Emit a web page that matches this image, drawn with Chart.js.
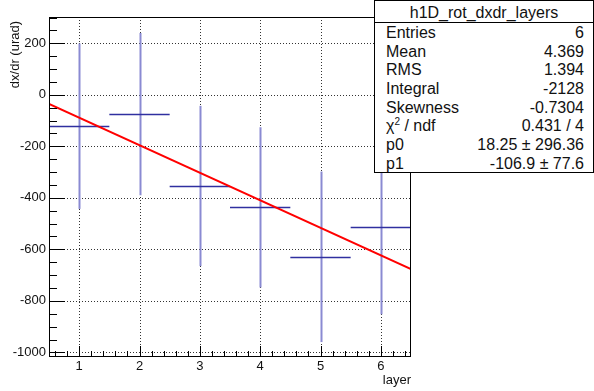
<!DOCTYPE html>
<html>
<head>
<meta charset="utf-8">
<title>h1D_rot_dxdr_layers</title>
<script src="https://cdn.jsdelivr.net/npm/chart.js@4.4.1/dist/chart.umd.min.js"></script>
<style>
  body { margin: 0; background: #fff; }
  #wrap { position: relative; width: 594px; height: 391px; }
  #stats {
    position: absolute; left: 374px; top: 0; width: 220px; height: 173px;
    box-sizing: border-box; border: 1px solid #000; background: #fff;
    font-family: "Liberation Sans", Arial, sans-serif; font-size: 16px; color: #111;
  }
  #stats .head { height: 21px; line-height: 23px; text-align: center; border-bottom: 1px solid #000; }
  #stats .row { display: flex; justify-content: space-between; height: 18.7px; line-height: 19px; padding: 0 9px 0 11px; }
  #stats sup { font-size: 10px; line-height: 0; }
</style>
</head>
<body>
<div id="wrap">
  <canvas id="c" width="594" height="391"></canvas>
  <div id="stats"></div>
</div>
<script>
// bins (layer) and measured dx/dr with errors
const layers = [1, 2, 3, 4, 5, 6];
const dxdr = [-122, -75, -354, -437, -629, -513];
const dxdrErr = [321, 315, 311, 311, 331, 339];
const layerHalfWidth = [0.5, 0.5, 0.5, 0.5, 0.5, 0.5];

// linear fit, ends of the drawn range
const fitX = [0.5, 6.5];
const fitY = [-35.2, -676.6];

// axis labels
const xTicks = [1, 2, 3, 4, 5, 6];
const yTicks = [-1000, -800, -600, -400, -200, 0, 200];

const statTitle = "h1D_rot_dxdr_layers";
const statNames = ["Entries", "Mean", "RMS", "Integral", "Skewness", "χ<sup>2</sup> / ndf", "p0", "p1"];
const statValues = ["6", "4.369", "1.394", "-2128", "-0.7304", "0.431 / 4", "18.25 ± 296.36", "-106.9 ± 77.6"];

const FONT = '"Liberation Sans", Arial, sans-serif';

// stats box
let html = '<div class="head">' + statTitle + '</div>';
statNames.forEach((n, i) => {
  html += '<div class="row"><span>' + n + '</span><span>' + statValues[i] + '</span></div>';
});
document.getElementById("stats").innerHTML = html;

const errorBars = {
  id: "errorBars",
  beforeDatasetsDraw(chart) {
    const { ctx, chartArea: a, scales: { x, y } } = chart;
    ctx.save();
    ctx.beginPath();
    ctx.rect(a.left, a.top, a.right - a.left, a.bottom - a.top);
    ctx.clip();

    // dotted grid at the labelled ticks
    ctx.strokeStyle = "#333";
    ctx.lineWidth = 1;
    ctx.setLineDash([1, 2]);
    ctx.beginPath();
    x.ticks.forEach((t) => {
      const px = Math.round(x.getPixelForValue(t.value)) + 0.5;
      ctx.moveTo(px, a.top);
      ctx.lineTo(px, a.bottom);
    });
    y.ticks.forEach((t) => {
      const py = Math.round(y.getPixelForValue(t.value)) + 0.5;
      ctx.moveTo(a.left, py);
      ctx.lineTo(a.right, py);
    });
    ctx.stroke();
    ctx.setLineDash([]);

    layers.forEach((l, i) => {
      const px = Math.round(x.getPixelForValue(l)) + 0.5;
      const py = Math.round(y.getPixelForValue(dxdr[i])) + 0.5;
      ctx.strokeStyle = "#8a8ad2";
      ctx.lineWidth = 2;
      ctx.beginPath();
      ctx.moveTo(px, y.getPixelForValue(dxdr[i] + dxdrErr[i]));
      ctx.lineTo(px, y.getPixelForValue(dxdr[i] - dxdrErr[i]));
      ctx.stroke();
      ctx.strokeStyle = "#3030a0";
      ctx.lineWidth = 1.3;
      ctx.beginPath();
      ctx.moveTo(x.getPixelForValue(l - layerHalfWidth[i]), py);
      ctx.lineTo(x.getPixelForValue(l + layerHalfWidth[i]), py);
      ctx.stroke();
    });
    ctx.restore();
  }
};

const frame = {
  id: "frame",
  afterDraw(chart) {
    const { ctx, chartArea: a, scales: { x, y } } = chart;
    ctx.save();
    ctx.strokeStyle = "#000";
    ctx.lineWidth = 1;
    ctx.strokeRect(a.left + 0.5, a.top + 0.5, a.right - a.left - 1, a.bottom - a.top);

    // y ticks: major every 200, minor every 50
    ctx.beginPath();
    for (let v = -1000; v <= 300; v += 50) {
      const py = Math.round(y.getPixelForValue(v)) + 0.5;
      if (py < a.top || py > a.bottom) continue;
      const len = v % 200 === 0 ? 16 : 8;
      ctx.moveTo(a.left, py);
      ctx.lineTo(a.left + len, py);
    }
    // x ticks: major every 1, minor every 0.2
    for (let k = 3; k <= 32; k++) {
      const px = Math.round(x.getPixelForValue(k / 5)) + 0.5;
      if (px < a.left || px > a.right) continue;
      const len = k % 5 === 0 ? 10 : 5;
      ctx.moveTo(px, a.bottom);
      ctx.lineTo(px, a.bottom - len);
    }
    ctx.stroke();

    // axis titles
    ctx.fillStyle = "#111";
    ctx.font = "13px " + FONT;
    ctx.textAlign = "right";
    ctx.textBaseline = "middle";
    ctx.fillText("layer", a.right, 380);
    ctx.textBaseline = "alphabetic";
    ctx.translate(19, 21);
    ctx.rotate(-Math.PI / 2);
    ctx.fillText("dx/dr (urad)", 0, 0);
    ctx.restore();
  }
};

new Chart(document.getElementById("c"), {
  data: {
    datasets: [
      {
        type: "scatter",
        label: "dx/dr",
        data: layers.map((l, i) => ({ x: l, y: dxdr[i] })),
        pointRadius: 0,
        showLine: false
      },
      {
        type: "line",
        label: "fit",
        data: fitX.map((v, i) => ({ x: v, y: fitY[i] })),
        borderColor: "#ff0000",
        borderWidth: 2,
        pointRadius: 0,
        fill: false
      }
    ]
  },
  options: {
    responsive: false,
    animation: false,
    devicePixelRatio: 1,
    layout: { padding: { top: 17, right: 183, bottom: 0, left: 0 } },
    plugins: { legend: { display: false }, tooltip: { enabled: false } },
    scales: {
      x: {
        type: "linear",
        min: 0.5,
        max: 6.5,
        afterBuildTicks(s) { s.ticks = xTicks.map((v) => ({ value: v })); },
        ticks: {
          maxRotation: 0,
          autoSkip: false,
          padding: 3,
          color: "#111",
          font: { family: FONT, size: 13 },
          callback: (v) => String(v)
        },
        grid: { display: false, drawTicks: false },
        border: { display: false },
        afterFit(s) { s.height = 35; }
      },
      y: {
        type: "linear",
        min: -1014,
        max: 302,
        afterBuildTicks(s) { s.ticks = yTicks.map((v) => ({ value: v })); },
        ticks: {
          autoSkip: false,
          padding: 3,
          color: "#111",
          font: { family: FONT, size: 13 },
          callback: (v) => String(v)
        },
        grid: { display: false, drawTicks: false },
        border: { display: false },
        afterFit(s) { s.width = 49; }
      }
    }
  },
  plugins: [errorBars, frame]
});
</script>
</body>
</html>
